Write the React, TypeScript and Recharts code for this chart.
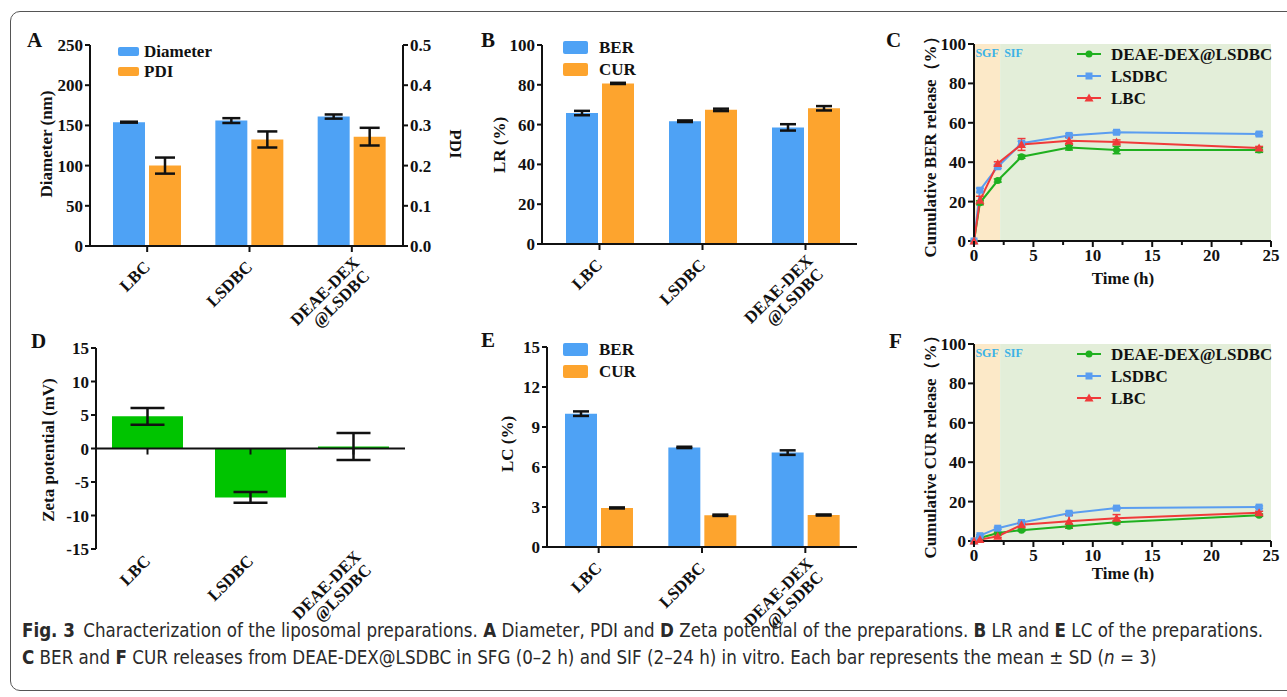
import React, { useLayoutEffect, useRef, useState } from "react";
import {
  BarChart,
  Bar,
  LineChart,
  Line,
  XAxis,
  YAxis,
  ErrorBar,
  Legend,
  ReferenceArea,
  ReferenceLine,
} from "recharts";

// preparations
const groups = ["LBC", "LSDBC", "DEAE-DEX@LSDBC"];

// A: particle size
const diameter = [154, 156, 161];
const diameterSd = [0.6, 3, 2.6];
const pdi = [0.2, 0.265, 0.272];
const pdiSd = [0.02, 0.02, 0.022];

// B: loading rate (%)
const lrBer = [65.8, 61.7, 58.6];
const lrBerSd = [1.1, 0.4, 1.6];
const lrCur = [80.7, 67.4, 68.2];
const lrCurSd = [0.3, 0.6, 1.1];

// D: zeta potential (mV)
const zeta = [4.8, -7.3, 0.3];
const zetaSd = [1.25, 0.8, 2.0];

// E: loading capacity (%)
const lcBer = [10.0, 7.47, 7.08];
const lcBerSd = [0.17, 0.05, 0.17];
const lcCur = [2.93, 2.38, 2.4];
const lcCurSd = [0.04, 0.05, 0.04];

// C / F: cumulative release (%)
const hours = [0, 0.5, 2, 4, 8, 12, 24];
const berDeae = [0, 19.4, 30.7, 42.8, 47.4, 46.2, 46.2];
const berDeaeSd = [0, 1.0, 0.8, 0.8, 1.2, 1.9, 1.2];
const berLsdbc = [0, 25.8, 37.7, 49.6, 53.6, 55.2, 54.3];
const berLsdbcSd = [0, 1.0, 0.8, 1.0, 0.8, 0.8, 0.8];
const berLbc = [0, 20.7, 39.4, 49.0, 50.9, 50.3, 47.2];
const berLbcSd = [0, 2.0, 0.8, 3.0, 1.7, 1.0, 0.8];

const curDeae = [0, 1.5, 4.1, 5.5, 7.5, 9.5, 13.1];
const curDeaeSd = [0, 0.4, 0.4, 0.5, 1.0, 0.8, 0.6];
const curLsdbc = [0, 2.7, 6.5, 9.4, 14.1, 16.7, 17.2];
const curLsdbcSd = [0, 0.4, 0.5, 0.6, 0.8, 0.6, 0.6];
const curLbc = [0, 0.7, 2.4, 8.2, 10.0, 11.6, 14.3];
const curLbcSd = [0, 0.4, 0.6, 0.8, 3.0, 1.8, 0.8];

const sgfEnd = 2.2;

// axis ticks
const sizeTicks = [0, 50, 100, 150, 200, 250];
const pdiTicks = [0, 0.1, 0.2, 0.3, 0.4, 0.5];
const pctTicks = [0, 20, 40, 60, 80, 100];
const zetaTicks = [-15, -10, -5, 0, 5, 10, 15];
const lcTicks = [0, 3, 6, 9, 12, 15];
const timeTicks = [0, 2.5, 5, 7.5, 10, 12.5, 15, 17.5, 20, 22.5, 25];

const blue = "#4ea2f5";
const orange = "#fda42e";
const zetaGreen = "#00c400";
const lineGreen = "#1fb01f";
const lineBlue = "#5a9df0";
const lineRed = "#f03a3a";
const ink = "#111";
const serif = '"Liberation Serif", "Times New Roman", serif';
const sans = '"Liberation Sans Narrow", "DejaVu Sans Condensed", "Open Sans", sans-serif';

const axisStyle = { stroke: ink, strokeWidth: 2 };
const tickFont = { fontFamily: serif, fontWeight: 700, fontSize: 17, fill: ink };

const sizeData = groups.map((g, i) => ({
  group: g,
  diameter: diameter[i],
  diameterSd: diameterSd[i],
  pdi: pdi[i],
  pdiSd: pdiSd[i],
}));
const lrData = groups.map((g, i) => ({
  group: g,
  ber: lrBer[i],
  berSd: lrBerSd[i],
  cur: lrCur[i],
  curSd: lrCurSd[i],
}));
const zetaData = groups.map((g, i) => ({ group: g, zeta: zeta[i], zetaSd: zetaSd[i] }));
const lcData = groups.map((g, i) => ({
  group: g,
  ber: lcBer[i],
  berSd: lcBerSd[i],
  cur: lcCur[i],
  curSd: lcCurSd[i],
}));
const berData = hours.map((t, i) => ({
  t,
  deae: berDeae[i],
  deaeSd: berDeaeSd[i],
  lsdbc: berLsdbc[i],
  lsdbcSd: berLsdbcSd[i],
  lbc: berLbc[i],
  lbcSd: berLbcSd[i],
}));
const curData = hours.map((t, i) => ({
  t,
  deae: curDeae[i],
  deaeSd: curDeaeSd[i],
  lsdbc: curLsdbc[i],
  lsdbcSd: curLsdbcSd[i],
  lbc: curLbc[i],
  lbcSd: curLbcSd[i],
}));

// rotated category label, "DEAE-DEX@LSDBC" split on two lines
function CatTick(props: any) {
  const { x, y, payload, ox = 4, oy = 14 } = props;
  const label = String(payload.value);
  const at = label.indexOf("@");
  return (
    <g transform={`translate(${x + ox},${y + oy}) rotate(-45)`}>
      {at < 0 ? (
        <text textAnchor="end" {...tickFont}>
          {label}
        </text>
      ) : (
        <>
          <text x={6} y={0} textAnchor="end" {...tickFont}>
            {label.slice(0, at)}
          </text>
          <text x={4} y={17} textAnchor="end" {...tickFont}>
            {label.slice(at)}
          </text>
        </>
      )}
    </g>
  );
}

function TimeTick(props: any) {
  const { x, y, payload } = props;
  const major = payload.value % 5 === 0;
  return (
    <g>
      <line x1={x} x2={x} y1={y} y2={y + (major ? 6 : 4)} stroke={ink} strokeWidth={2} />
      {major && (
        <text x={x} y={y + 20} textAnchor="middle" {...tickFont}>
          {payload.value}
        </text>
      )}
    </g>
  );
}

function BoxLegend(props: any) {
  const { payload = [], boxW = 25, boxH = 13, gap = 11, rowH = 22 } = props;
  return (
    <div>
      {payload.map((p: any) => (
        <div key={p.value} style={{ display: "flex", alignItems: "center", height: rowH }}>
          <span
            style={{
              display: "inline-block",
              width: boxW,
              height: boxH,
              background: p.color,
              borderRadius: 2,
              marginRight: gap,
            }}
          />
          <span style={{ fontFamily: serif, fontWeight: 700, fontSize: 17, color: ink, lineHeight: 1 }}>
            {p.value}
          </span>
        </div>
      ))}
    </div>
  );
}

function Marker({ shape, cx, cy, color }: any) {
  if (shape === "square") return <rect x={cx - 3.5} y={cy - 3.5} width={7} height={7} fill={color} />;
  if (shape === "triangle")
    return (
      <polygon
        points={`${cx},${cy - 4.5} ${cx - 4.5},${cy + 3.5} ${cx + 4.5},${cy + 3.5}`}
        fill={color}
      />
    );
  return <circle cx={cx} cy={cy} r={3.5} fill={color} />;
}

function LineLegend(props: any) {
  const { payload = [] } = props;
  return (
    <div>
      {payload.map((p: any) => (
        <div key={p.value} style={{ display: "flex", alignItems: "center", height: 22 }}>
          <svg width={24} height={12} style={{ marginRight: 10 }}>
            <line x1={0} x2={24} y1={6} y2={6} stroke={p.color} strokeWidth={2} />
            <Marker shape={p.type} cx={12} cy={6} color={p.color} />
          </svg>
          <span style={{ fontFamily: serif, fontWeight: 700, fontSize: 17, color: ink, lineHeight: 1 }}>
            {p.value}
          </span>
        </div>
      ))}
    </div>
  );
}

function dotOf(shape: string, color: string) {
  return (p: any) => <Marker key={`${shape}${p.index}`} shape={shape} cx={p.cx} cy={p.cy} color={color} />;
}

const phaseLabel = {
  offset: 4,
  fill: "#3db2e6",
  fontSize: 12,
  fontWeight: 700,
  fontFamily: serif,
};

function ReleaseChart({ data }: { data: any[] }) {
  return (
    <LineChart width={417} height={300} data={data} margin={{ top: 14, right: 16, bottom: 0, left: 0 }}>
      <ReferenceArea
        x1={0}
        x2={sgfEnd}
        y1={0}
        y2={100}
        fill="#fce9c8"
        fillOpacity={1}
        stroke="none"
        label={{ value: "SGF", position: "insideTop", ...phaseLabel }}
      />
      <ReferenceArea
        x1={sgfEnd}
        x2={25}
        y1={0}
        y2={100}
        fill="#e3eed9"
        fillOpacity={1}
        stroke="none"
        label={{ value: "SIF", position: "insideTopLeft", ...phaseLabel }}
      />
      <XAxis
        type="number"
        dataKey="t"
        domain={[0, 25]}
        ticks={timeTicks}
        interval={0}
        height={89}
        axisLine={axisStyle}
        tickLine={false}
        tickSize={0}
        tickMargin={0}
        tick={<TimeTick />}
      />
      <YAxis
        width={104}
        domain={[0, 100]}
        ticks={pctTicks}
        interval={0}
        axisLine={axisStyle}
        tickLine={axisStyle}
        tickSize={6}
        tickMargin={2}
        tick={tickFont}
      />
      <Legend
        content={<LineLegend />}
        itemSorter={null}
        layout="vertical"
        align="center"
        verticalAlign="middle"
        wrapperStyle={{ left: 207, top: 13, width: 210 }}
      />
      <Line
        type="linear"
        dataKey="deae"
        name="DEAE-DEX@LSDBC"
        stroke={lineGreen}
        strokeWidth={2}
        legendType="circle"
        dot={dotOf("circle", lineGreen)}
        activeDot={false}
        isAnimationActive={false}
      >
        <ErrorBar dataKey="deaeSd" direction="y" width={4} strokeWidth={1.5} stroke={lineGreen} />
      </Line>
      <Line
        type="linear"
        dataKey="lsdbc"
        name="LSDBC"
        stroke={lineBlue}
        strokeWidth={2}
        legendType="square"
        dot={dotOf("square", lineBlue)}
        activeDot={false}
        isAnimationActive={false}
      >
        <ErrorBar dataKey="lsdbcSd" direction="y" width={4} strokeWidth={1.5} stroke={lineBlue} />
      </Line>
      <Line
        type="linear"
        dataKey="lbc"
        name="LBC"
        stroke={lineRed}
        strokeWidth={2}
        legendType="triangle"
        dot={dotOf("triangle", lineRed)}
        activeDot={false}
        isAnimationActive={false}
      >
        <ErrorBar dataKey="lbcSd" direction="y" width={4} strokeWidth={1.5} stroke={lineRed} />
      </Line>
    </LineChart>
  );
}

function VLabel({ x, y, text, angle = -90 }: any) {
  return (
    <text
      transform={`translate(${x},${y}) rotate(${angle})`}
      textAnchor="middle"
      dominantBaseline="central"
      fontFamily={serif}
      fontWeight={700}
      fontSize={17}
      fill={ink}
    >
      {text}
    </text>
  );
}

function PanelLetter({ x, y, text }: any) {
  return (
    <text x={x} y={y} fontFamily={serif} fontWeight={700} fontSize={21} fill={ink}>
      {text}
    </text>
  );
}

// caption line squeezed horizontally to the width it has in the figure
function CaptionLine({ top, width, children }: any) {
  const ref = useRef<HTMLDivElement>(null);
  const [k, setK] = useState(1);
  useLayoutEffect(() => {
    const w = ref.current ? ref.current.scrollWidth : 0;
    if (w > 0) setK(width / w);
  }, [width]);
  return (
    <div
      ref={ref}
      style={{
        position: "absolute",
        left: 22,
        top,
        whiteSpace: "nowrap",
        fontFamily: sans,
        fontSize: 19,
        lineHeight: 1,
        color: "#2a2a2a",
        transform: `scaleX(${k})`,
        transformOrigin: "0 0",
      }}
    >
      {children}
    </div>
  );
}

export default function App() {
  return (
    <div style={{ position: "absolute", left: 0, top: 0, width: 1287, height: 697, background: "#fff", overflow: "hidden" }}>
      <div
        style={{
          position: "absolute",
          left: 10,
          top: 11,
          width: 1300,
          height: 680,
          border: "1.5px solid #555",
          borderRadius: 10,
          boxSizing: "border-box",
        }}
      />

      {/* A */}
      <div style={{ position: "absolute", left: 20, top: 30 }}>
        <BarChart
          width={470}
          height={310}
          data={sizeData}
          margin={{ top: 15, right: 27, bottom: 0, left: 0 }}
          barGap={4}
          barSize={32}
        >
          <XAxis
            dataKey="group"
            height={94}
            padding={{ left: 6, right: 0 }}
            interval={0}
            axisLine={axisStyle}
            tickLine={axisStyle}
            tickSize={6}
            tickMargin={2}
            tick={<CatTick ox={4} oy={14} />}
          />
          <YAxis
            yAxisId="size"
            width={70}
            domain={[0, 250]}
            ticks={sizeTicks}
            interval={0}
            axisLine={axisStyle}
            tickLine={axisStyle}
            tickSize={5}
            tickMargin={2}
            tick={tickFont}
          />
          <YAxis
            yAxisId="pdi"
            orientation="right"
            width={60}
            domain={[0, 0.5]}
            ticks={pdiTicks}
            interval={0}
            tickFormatter={(v: number) => v.toFixed(1)}
            axisLine={axisStyle}
            tickLine={axisStyle}
            tickSize={5}
            tickMargin={2}
            tick={tickFont}
          />
          <Legend
            content={<BoxLegend boxW={21} boxH={9} gap={5} rowH={20} />}
            itemSorter={null}
            layout="vertical"
            align="center"
            verticalAlign="middle"
            wrapperStyle={{ left: 98, top: 11, width: 150 }}
          />
          <Bar yAxisId="size" dataKey="diameter" name="Diameter" fill={blue} isAnimationActive={false}>
            <ErrorBar dataKey="diameterSd" direction="y" width={9} strokeWidth={2.5} stroke={ink} />
          </Bar>
          <Bar yAxisId="pdi" dataKey="pdi" name="PDI" fill={orange} isAnimationActive={false}>
            <ErrorBar dataKey="pdiSd" direction="y" width={10} strokeWidth={2.5} stroke={ink} />
          </Bar>
        </BarChart>
      </div>

      {/* B */}
      <div style={{ position: "absolute", left: 470, top: 30 }}>
        <BarChart
          width={400}
          height={310}
          data={lrData}
          margin={{ top: 15, right: 13, bottom: 0, left: 0 }}
          barGap={4}
          barSize={32}
        >
          <XAxis
            dataKey="group"
            height={96}
            padding={{ left: 6, right: 0 }}
            interval={0}
            axisLine={axisStyle}
            tickLine={axisStyle}
            tickSize={6}
            tickMargin={2}
            tick={<CatTick ox={4} oy={14} />}
          />
          <YAxis
            width={72}
            domain={[0, 100]}
            ticks={pctTicks}
            interval={0}
            axisLine={axisStyle}
            tickLine={axisStyle}
            tickSize={5}
            tickMargin={2}
            tick={tickFont}
          />
          <Legend
            content={<BoxLegend />}
            itemSorter={null}
            layout="vertical"
            align="center"
            verticalAlign="middle"
            wrapperStyle={{ left: 93, top: 6, width: 150 }}
          />
          <Bar dataKey="ber" name="BER" fill={blue} isAnimationActive={false}>
            <ErrorBar dataKey="berSd" direction="y" width={8} strokeWidth={2.5} stroke={ink} />
          </Bar>
          <Bar dataKey="cur" name="CUR" fill={orange} isAnimationActive={false}>
            <ErrorBar dataKey="curSd" direction="y" width={8} strokeWidth={2.5} stroke={ink} />
          </Bar>
        </BarChart>
      </div>

      {/* C */}
      <div style={{ position: "absolute", left: 870, top: 30 }}>
        <ReleaseChart data={berData} />
      </div>

      {/* D */}
      <div style={{ position: "absolute", left: 20, top: 330 }}>
        <BarChart
          width={440}
          height={300}
          data={zetaData}
          margin={{ top: 18, right: 55, bottom: 0, left: 0 }}
          barSize={71}
        >
          <XAxis
            dataKey="group"
            height={81}
            interval={0}
            axisLine={false}
            tickLine={false}
            tickSize={0}
            tickMargin={0}
            tick={<CatTick ox={4} oy={13} />}
          />
          <YAxis
            width={76}
            domain={[-15, 15]}
            ticks={zetaTicks}
            interval={0}
            axisLine={axisStyle}
            tickLine={axisStyle}
            tickSize={5}
            tickMargin={2}
            tick={tickFont}
          />
          <Bar dataKey="zeta" fill={zetaGreen} isAnimationActive={false}>
            <ErrorBar dataKey="zetaSd" direction="y" width={17} strokeWidth={2.5} stroke={ink} />
          </Bar>
          <ReferenceLine y={0} stroke={ink} strokeWidth={2} />
          {groups.map((g) => (
            <ReferenceLine
              key={g}
              segment={[
                { x: g, y: 0 },
                { x: g, y: -0.9 },
              ]}
              stroke={ink}
              strokeWidth={2}
            />
          ))}
        </BarChart>
      </div>

      {/* E */}
      <div style={{ position: "absolute", left: 470, top: 330 }}>
        <BarChart
          width={400}
          height={310}
          data={lcData}
          margin={{ top: 17, right: 13, bottom: 0, left: 0 }}
          barGap={4}
          barSize={32}
        >
          <XAxis
            dataKey="group"
            height={93}
            interval={0}
            axisLine={axisStyle}
            tickLine={axisStyle}
            tickSize={6}
            tickMargin={2}
            tick={<CatTick ox={4} oy={14} />}
          />
          <YAxis
            width={77}
            domain={[0, 15]}
            ticks={lcTicks}
            interval={0}
            axisLine={axisStyle}
            tickLine={axisStyle}
            tickSize={5}
            tickMargin={2}
            tick={tickFont}
          />
          <Legend
            content={<BoxLegend />}
            itemSorter={null}
            layout="vertical"
            align="center"
            verticalAlign="middle"
            wrapperStyle={{ left: 93, top: 8, width: 150 }}
          />
          <Bar dataKey="ber" name="BER" fill={blue} isAnimationActive={false}>
            <ErrorBar dataKey="berSd" direction="y" width={8} strokeWidth={2.5} stroke={ink} />
          </Bar>
          <Bar dataKey="cur" name="CUR" fill={orange} isAnimationActive={false}>
            <ErrorBar dataKey="curSd" direction="y" width={8} strokeWidth={2.5} stroke={ink} />
          </Bar>
        </BarChart>
      </div>

      {/* F */}
      <div style={{ position: "absolute", left: 870, top: 330 }}>
        <ReleaseChart data={curData} />
      </div>

      {/* letters and axis titles */}
      <svg
        width={1287}
        height={697}
        style={{ position: "absolute", left: 0, top: 0, pointerEvents: "none" }}
      >
        <PanelLetter x={27} y={47} text="A" />
        <PanelLetter x={481} y={47} text="B" />
        <PanelLetter x={886} y={47} text="C" />
        <PanelLetter x={31} y={348} text="D" />
        <PanelLetter x={481} y={347} text="E" />
        <PanelLetter x={889} y={348} text="F" />

        <VLabel x={46} y={144} text="Diameter (nm)" />
        <VLabel x={455} y={144} text="PDI" angle={90} />
        <VLabel x={499} y={145} text="LR (%)" />
        <VLabel x={48} y={450} text="Zeta potential (mV)" />
        <VLabel x={507} y={444} text="LC (%)" />
        <VLabel x={930} y={143} text="Cumulative BER release（%）" />
        <VLabel x={930} y={443} text="Cumulative CUR release（%）" />
        <text x={1123} y={278} textAnchor="middle" dominantBaseline="central" fontFamily={serif} fontWeight={700} fontSize={17} fill={ink}>
          Time (h)
        </text>
        <text x={1123} y={573} textAnchor="middle" dominantBaseline="central" fontFamily={serif} fontWeight={700} fontSize={17} fill={ink}>
          Time (h)
        </text>
      </svg>

      {/* caption */}
      <CaptionLine top={621} width={1241}>
        <b>Fig. 3</b>
        {"\u2002Characterization of the liposomal preparations. "}
        <b>A</b> Diameter, PDI and <b>D</b> Zeta potential of the preparations. <b>B</b> LR and <b>E</b> LC of the
        preparations.
      </CaptionLine>
      <CaptionLine top={648} width={1135}>
        <b>C</b> BER and <b>F</b> CUR releases from DEAE-DEX@LSDBC in SFG (0–2 h) and SIF (2–24 h) in vitro. Each bar
        represents the mean ± SD (<i>n</i> = 3)
      </CaptionLine>
    </div>
  );
}
